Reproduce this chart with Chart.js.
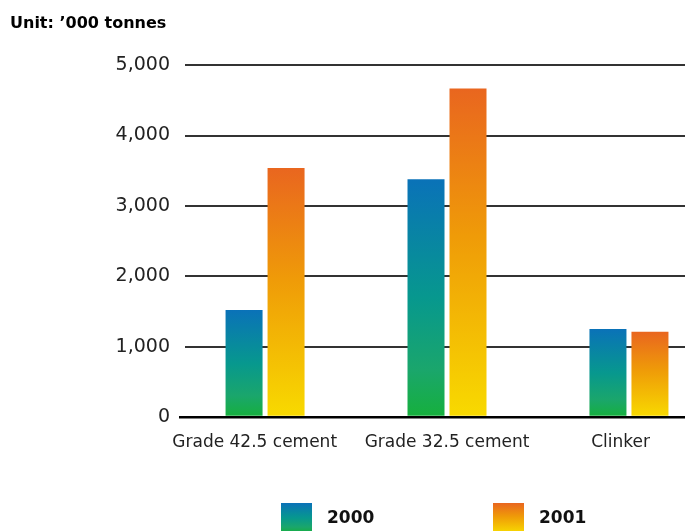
<!DOCTYPE html>
<html>
<head>
<meta charset="utf-8">
<script src="https://cdn.jsdelivr.net/npm/chart.js@4.4.1/dist/chart.umd.min.js"></script>
<style>
  html, body { margin: 0; padding: 0; background: #fff; }
</style>
</head>
<body>
<canvas id="chart" width="690" height="531"></canvas>
<script>
// Les categories (axe des x) et les annees (series)
var categories = ['Grade 42.5 cement', 'Grade 32.5 cement', 'Clinker'];
var annees = ['2000', '2001'];
// Valeurs en milliers de tonnes
var valeurs2000 = [1520, 3380, 1250];
var valeurs2001 = [3540, 4670, 1210];
// Graduations de l'axe des y
var graduationsY = [0, 1000, 2000, 3000, 4000, 5000];

// Degrades de chaque serie (haut -> bas de la barre)
var degrades = [
  [[0, '#0a72b8'], [0.5, '#07988e'], [0.8, '#1aa66c'], [1, '#16b03c']],
  [[0, '#e9661f'], [0.45, '#ef9b08'], [1, '#f8da00']]
];

var police = "'DejaVu Sans', sans-serif";

function faitDegrade(ctx, haut, bas, arrets){
  var g = ctx.createLinearGradient(0, haut, 0, bas);
  arrets.forEach(function(a){ g.addColorStop(a[0], a[1]); });
  return g;
}

//Un degrade par barre, du haut de la barre jusqu'a zero.
function couleurBarre(contexte){
  var chart = contexte.chart;
  var arrets = degrades[contexte.datasetIndex];
  if(!chart.chartArea || contexte.type !== 'data' || !contexte.parsed) return arrets[0][1];
  var y = chart.scales.y;
  var haut = y.getPixelForValue(contexte.parsed.y);
  var bas = y.getPixelForValue(0);
  return faitDegrade(chart.ctx, haut, bas, arrets);
}

function enPoints(vals){
  return vals.map(function(v, i){ return {x: i, y: v}; });
}

//Legende dessinee a la main (boites en degrade sous le graphe)
var legendePerso = {
  id: 'legendePerso',
  afterDraw: function(chart){
    var ctx = chart.ctx;
    var aire = chart.chartArea;
    var centre = (aire.left + aire.right) / 2;
    var decalages = [-154, 58];
    var haut = chart.height - 28;
    ctx.save();
    for(var i = 0; i < annees.length; i++){
      var x = centre + decalages[i];
      ctx.fillStyle = faitDegrade(ctx, haut, haut + 30, degrades[i]);
      ctx.fillRect(x, haut, 31, 30);
      ctx.fillStyle = '#111';
      ctx.font = 'bold 17px ' + police;
      ctx.textBaseline = 'middle';
      ctx.textAlign = 'left';
      ctx.fillText(annees[i], x + 46, haut + 16);
    }
    ctx.restore();
  }
};

// petit decalage des etiquettes de l'axe des x (comme sur l'original)
var decalEtiquettes = [-0.057, 0, -0.046];

var graphe = new Chart(document.getElementById('chart'), {
  type: 'bar',
  data: {
    datasets: [{
      label: annees[0],
      data: enPoints(valeurs2000),
      backgroundColor: couleurBarre
    }, {
      label: annees[1],
      data: enPoints(valeurs2001),
      backgroundColor: couleurBarre
    }]
  },
  plugins: [legendePerso],
  options: {
    responsive: false,
    animation: false,
    devicePixelRatio: 1,
    locale: 'en-US',
    //la largeur depend de l'ecart minimal entre graduations (~174px)
    categoryPercentage: 0.4839,
    barPercentage: 0.881,
    layout: { padding: { left: 10, right: 5, top: 0, bottom: 0 } },
    plugins: {
      legend: { display: false },
      tooltip: { enabled: false },
      title: {
        display: true,
        text: 'Unit: \u2019000 tonnes',
        align: 'start',
        color: '#000',
        font: { family: police, size: 16, weight: 'bold' },
        padding: { top: 14, bottom: 32 }
      }
    },
    scales: {
      x: {
        type: 'linear',
        offset: false,
        min: -0.44,
        max: 2.308,
        afterBuildTicks: function(axe){
          axe.ticks = categories.map(function(c, i){ return {value: i + decalEtiquettes[i]}; });
        },
        afterFit: function(axe){ axe.height = 114; },
        grid: { display: false, offset: false },
        border: { display: false },
        ticks: {
          autoSkip: false,
          maxRotation: 0,
          padding: 7,
          color: '#222',
          font: { family: police, size: 17 },
          callback: function(v, i){ return categories[i]; }
        }
      },
      y: {
        min: 0,
        max: 5000,
        afterBuildTicks: function(axe){
          axe.ticks = graduationsY.map(function(v){ return {value: v}; });
        },
        afterFit: function(axe){ axe.width = 175; },
        border: { display: false },
        grid: {
          color: function(c){ return c.tick && c.tick.value === 0 ? '#000' : '#333'; },
          lineWidth: function(c){ return c.tick && c.tick.value === 0 ? 2.5 : 2; },
          tickColor: function(c){ return c.tick && c.tick.value === 0 ? '#000' : 'rgba(0,0,0,0)'; },
          tickLength: 6
        },
        ticks: {
          padding: 9,
          color: '#222',
          font: { family: police, size: 19 },
          callback: function(v){ return v.toLocaleString('en-US'); }
        }
      }
    }
  }
});
</script>
</body>
</html>
